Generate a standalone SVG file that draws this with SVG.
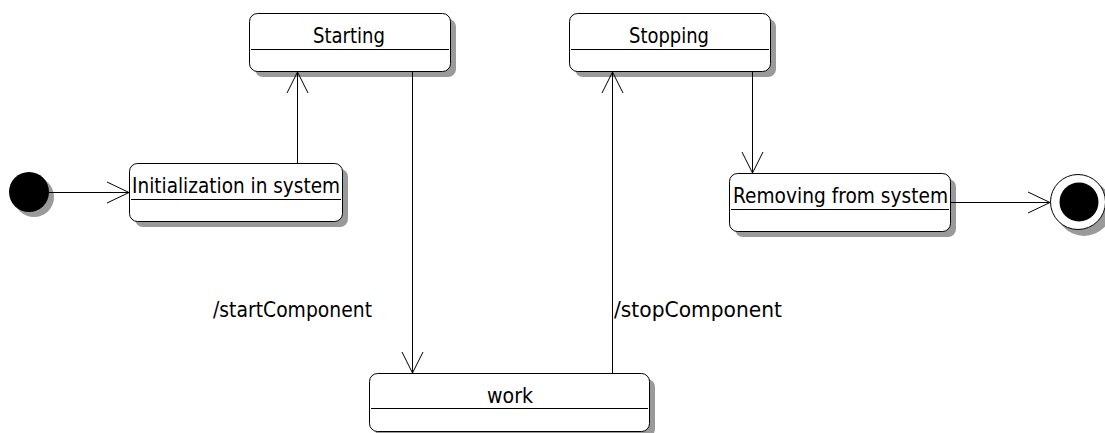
<svg xmlns="http://www.w3.org/2000/svg" width="1105" height="433" viewBox="0 0 1105 433">
<style>
.box{fill:#fff;stroke:#000;stroke-width:1}
.sh{fill:#9a9a9a}
.div{stroke:#000;stroke-width:1}
.t{font-family:"DejaVu Sans",Verdana,sans-serif;font-size:20.5px;fill:#000}
.c{fill:none;stroke:#000;stroke-width:1}
</style>
<rect width="1105" height="433" fill="#fff"/>
<g id="initial">
<circle class="sh" cx="34" cy="197" r="20"/>
<circle cx="29" cy="192" r="20" fill="#000"/>
</g>
<g id="init">
<rect class="sh" x="135" y="169" width="213" height="58" rx="8"/>
<rect class="box" x="129.5" y="163.5" width="213" height="58" rx="8"/>
<line class="div" x1="131" y1="199.5" x2="341" y2="199.5"/>
<text class="t" x="132" y="193" textLength="208" lengthAdjust="spacingAndGlyphs">Initialization in system</text>
</g>
<g id="starting">
<rect class="sh" x="255" y="19" width="201" height="58" rx="8"/>
<rect class="box" x="249.5" y="13.5" width="201" height="58" rx="8"/>
<line class="div" x1="251" y1="49.5" x2="449" y2="49.5"/>
<text class="t" x="349" y="43" text-anchor="middle" textLength="72" lengthAdjust="spacingAndGlyphs">Starting</text>
</g>
<g id="stopping">
<rect class="sh" x="575" y="19" width="201" height="58" rx="8"/>
<rect class="box" x="569.5" y="13.5" width="201" height="58" rx="8"/>
<line class="div" x1="571" y1="49.5" x2="769" y2="49.5"/>
<text class="t" x="669" y="43" text-anchor="middle" textLength="80" lengthAdjust="spacingAndGlyphs">Stopping</text>
</g>
<g id="removing">
<rect class="sh" x="735" y="179" width="221" height="58" rx="8"/>
<rect class="box" x="729.5" y="173.5" width="221" height="58" rx="8"/>
<line class="div" x1="731" y1="209.5" x2="949" y2="209.5"/>
<text class="t" x="733" y="203" textLength="215" lengthAdjust="spacingAndGlyphs">Removing from system</text>
</g>
<g id="work">
<rect class="sh" x="375" y="379" width="280" height="58" rx="8"/>
<rect class="box" x="369.5" y="373.5" width="280" height="58" rx="8"/>
<line class="div" x1="371" y1="408.5" x2="648" y2="408.5"/>
<text class="t" x="510" y="403" text-anchor="middle" textLength="46" lengthAdjust="spacingAndGlyphs">work</text>
</g>
<g id="final">
<circle class="sh" cx="1084" cy="208" r="28"/>
<circle cx="1078" cy="202" r="27.5" fill="#fff" stroke="#000" stroke-width="1"/>
<circle cx="1079" cy="202" r="19.5" fill="#000"/>
</g>
<g id="connectors">
<line class="c" x1="49" y1="192.5" x2="129" y2="192.5"/>
<polyline class="c" points="107,182 129,192.5 107,203"/>
<line class="c" x1="297.5" y1="163" x2="297.5" y2="72"/>
<polyline class="c" points="287,93 297.5,72 308,93"/>
<line class="c" x1="412.5" y1="72" x2="412.5" y2="373"/>
<polyline class="c" points="402,352 412.5,373 423,352"/>
<line class="c" x1="612.5" y1="373" x2="612.5" y2="72"/>
<polyline class="c" points="602,93 612.5,72 623,93"/>
<line class="c" x1="752.5" y1="72" x2="752.5" y2="173"/>
<polyline class="c" points="742,152 752.5,173 763,152"/>
<line class="c" x1="951" y1="202.5" x2="1050" y2="202.5"/>
<polyline class="c" points="1028,192 1050,202.5 1028,213"/>
<text class="t" x="213" y="317" textLength="159" lengthAdjust="spacingAndGlyphs">/startComponent</text>
<text class="t" x="614" y="317" textLength="168" lengthAdjust="spacingAndGlyphs">/stopComponent</text>
</g>
</svg>
